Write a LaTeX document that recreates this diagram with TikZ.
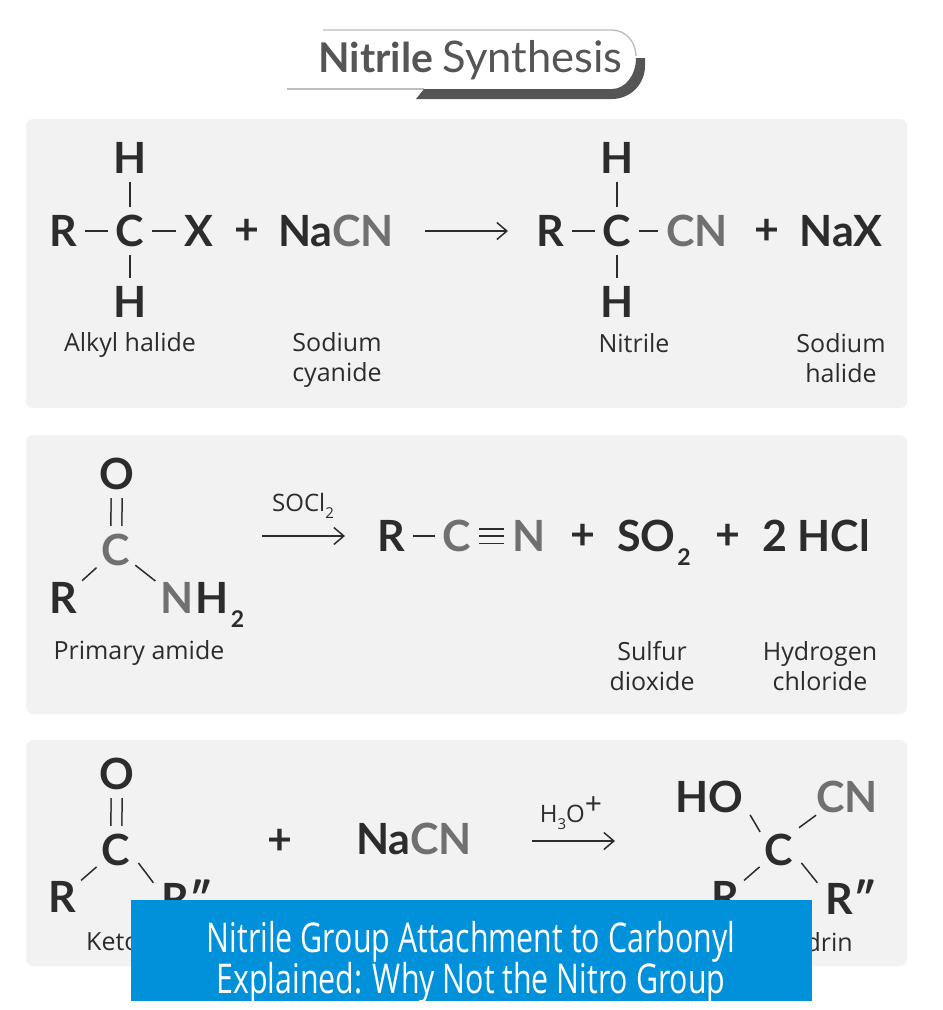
\documentclass[tikz,border=0pt]{standalone}
\usepackage{fontspec}
\setmainfont{Open Sans}
\newfontfamily\bannerfont[FakeStretch=0.74]{Open Sans}
\newfontfamily\atomfont{Lato}
\usetikzlibrary{arrows.meta}
\definecolor{panelgray}{HTML}{F2F2F2}
\definecolor{inkdark}{HTML}{2C2C2C}
\definecolor{inkmid}{HTML}{707070}
\definecolor{titlegray}{HTML}{555555}
\definecolor{rulegray}{HTML}{BDBDBD}
\definecolor{bannerblue}{HTML}{0091DA}
\newcommand{\cyano}[1]{\textcolor{inkmid}{#1}}
\newcommand{\atomsub}[1]{\hspace{2pt}\raisebox{-14pt}{\fontsize{23}{23}\selectfont #1}}
\newcommand{\reagentsub}[1]{\raisebox{-7pt}{\fontsize{15}{15}\selectfont #1}}
\tikzset{
  atom/.style={font=\atomfont\fontsize{43}{43}\selectfont\bfseries, text=inkdark, inner sep=8pt},
  caption/.style={font=\fontsize{25}{30}\selectfont, text=inkdark, align=center, inner sep=0pt},
  reagent/.style={font=\fontsize{24}{24}\selectfont, text=inkdark, inner sep=0pt},
  bond/.style={draw=inkdark, line width=1.5pt},
  slant/.style={bond, shorten >=-4pt, shorten <=-4pt},
  twobond/.style={draw=inkdark, line width=1.5pt, double=panelgray, double distance=9.5pt},
  threebond/.style={draw=inkdark, line width=1.5pt, double=panelgray, double distance=13pt},
  react/.style={draw=inkdark, line width=1.5pt, -{Straight Barb[length=10pt,width=17pt]}},
  panel/.style={fill=panelgray, rounded corners=7pt}
}
\begin{document}
\begin{tikzpicture}[x=1pt,y=-1pt]
      \useasboundingbox (0,0) rectangle (943,1010);

      \fill[panel] (26,119) rectangle (907,408);
      \fill[panel] (26,435) rectangle (907,714);
      \fill[panel] (26,740) rectangle (907,966);

      \draw[rulegray, line width=1.4pt] (323,30) -- (612,30) arc (-90:0:24 and 26);
      \draw[rulegray, line width=1.4pt] (287,89) -- (424,89);
      \fill[titlegray] (416,99) -- (424,89) -- (612,89) arc (90:0:24 and 31) -- (645,58) -- (645,66) arc (0:90:33) -- cycle;
      \node[inner sep=0pt, text=titlegray, font=\atomfont\fontsize{41}{41}\selectfont\bfseries] (title1) at (376,57) {Nitrile};
      \node[inner sep=0pt, text=titlegray, font=\atomfont\fontsize{43.5}{43.5}\selectfont] (title2) at (532.5,60) {Synthesis};

      \begin{scope}[every node/.style={atom}]
        \node (h1)  at (130,158) {H};
        \node (c1)  at (130,231) {C};
        \node (h2)  at (130,302) {H};
        \node (r1)  at (63,231)  {R};
        \node (x1)  at (199,231) {X};
        \node (pl1) at (247,232) {+};
        \node (na1) at (336,231) {Na\cyano{CN}};
        \node (r2)  at (550,231) {R};
        \node (c2)  at (617,231) {C};
        \node (h3)  at (617,158) {H};
        \node (h4)  at (617,302) {H};
        \node (cn1) at (697,231) {\cyano{CN}};
        \node (pl2) at (767,232) {+};
        \node (nx1) at (841,231) {NaX};

        \node (o1)  at (117,474) {O};
        \node (c3)  at (116,550) {\cyano{C}};
        \node (r3)  at (63,598)  {R};
        \node (n1)  at (177,598) {\cyano{N}};
        \node (h5)  at (220,605) {H\atomsub{2}};
        \node (r4)  at (391,536) {R};
        \node (c4)  at (457,536) {\cyano{C}};
        \node (n2)  at (529,536) {\cyano{N}};
        \node (pl3) at (583,537) {+};
        \node (so1) at (654,543) {SO\atomsub{2}};
        \node (pl4) at (728,537) {+};
        \node (hc1) at (816,536) {2 HCl};

        \node (o2)  at (117,774) {O};
        \node (c5)  at (116,850) {C};
        \node (r5)  at (62,897)  {R};
        \node (r6)  at (187,897) {R″};
        \node (pl5) at (280,842) {+};
        \node (na2) at (414,839) {Na\cyano{CN}};
        \node (ho1) at (709,797) {HO};
        \node (cn2) at (847,797) {\cyano{CN}};
        \node (c6)  at (779,850) {C};
        \node (r7)  at (725,897) {R};
        \node (r8)  at (851,897) {R″};
      \end{scope}

      \begin{scope}[every node/.style={caption}]
        \node (cap1) at (130,345) {Alkyl halide};
        \node (cap2) at (337,360) {Sodium\\cyanide};
        \node (cap3) at (634,343) {Nitrile};
        \node (cap4) at (841,358) {Sodium\\halide};
        \node (cap5) at (139,653) {Primary amide};
        \node (cap6) at (652,666) {Sulfur\\dioxide};
        \node (cap7) at (820,666) {Hydrogen\\chloride};
        \node[anchor=west] (cap8) at (86,942) {Keto};
        \node[anchor=east] (cap9) at (853,942) {drin};
      \end{scope}

      \node[reagent] (rg1) at (303,506) {SOCl\reagentsub{2}};
      \node[reagent] (rg2) at (571,813) {H\reagentsub{3}O\raisebox{8pt}{\fontsize{30}{30}\selectfont +}};

      \coordinate (a1) at (425,231);
      \coordinate (b1) at (508,231);
      \coordinate (a2) at (262,536);
      \coordinate (b2) at (345,536);
      \coordinate (a3) at (532,841);
      \coordinate (b3) at (615,841);

      \path (a1) edge[react] (b1);
      \path (a2) edge[react] (b2);
      \path (a3) edge[react] (b3);

      \begin{scope}[every edge/.style={twobond}]
        \path (o1) edge (c3);
        \path (o2) edge (c5);
      \end{scope}

      \path (c4) edge[threebond] (n2);

      \begin{scope}[every edge/.style={bond}]
        \path (h1) edge (c1);
        \path (c1) edge (h2);
        \path (r1) edge (c1);
        \path (c1) edge (x1);
        \path (r2) edge (c2);
        \path (h3) edge (c2);
        \path (c2) edge (h4);
        \path (c2) edge (cn1);
        \path (r4) edge (c4);
        \path (c4) edge (n2);
        \path (c5.-30) edge (r6.157);
        \path (c6.-30) edge (r8.157);
      \end{scope}

      \begin{scope}[every edge/.style={slant}]
        \path (r3) edge (c3);
        \path (c3) edge (n1);
        \path (r5) edge (c5);
        \path (r7) edge (c6);
        \path (ho1.-25) edge[shorten >=-7pt, shorten <=-2pt] (c6.north west);
        \path (c6.north east) edge[shorten <=-3pt, shorten >=-10pt] (cn2.south west);
      \end{scope}

      \fill[bannerblue] (131,900) rectangle (812,1001);
      \begin{scope}[every node/.style={text=white, inner sep=0pt, font=\bannerfont\fontsize{41}{41}\selectfont}]
        \node (ban1) at (471,942) {Nitrile Group Attachment to Carbonyl};
        \node (ban2) at (471,983) {Explained: Why Not the Nitro Group};
      \end{scope}

    \end{tikzpicture}
\end{document}
